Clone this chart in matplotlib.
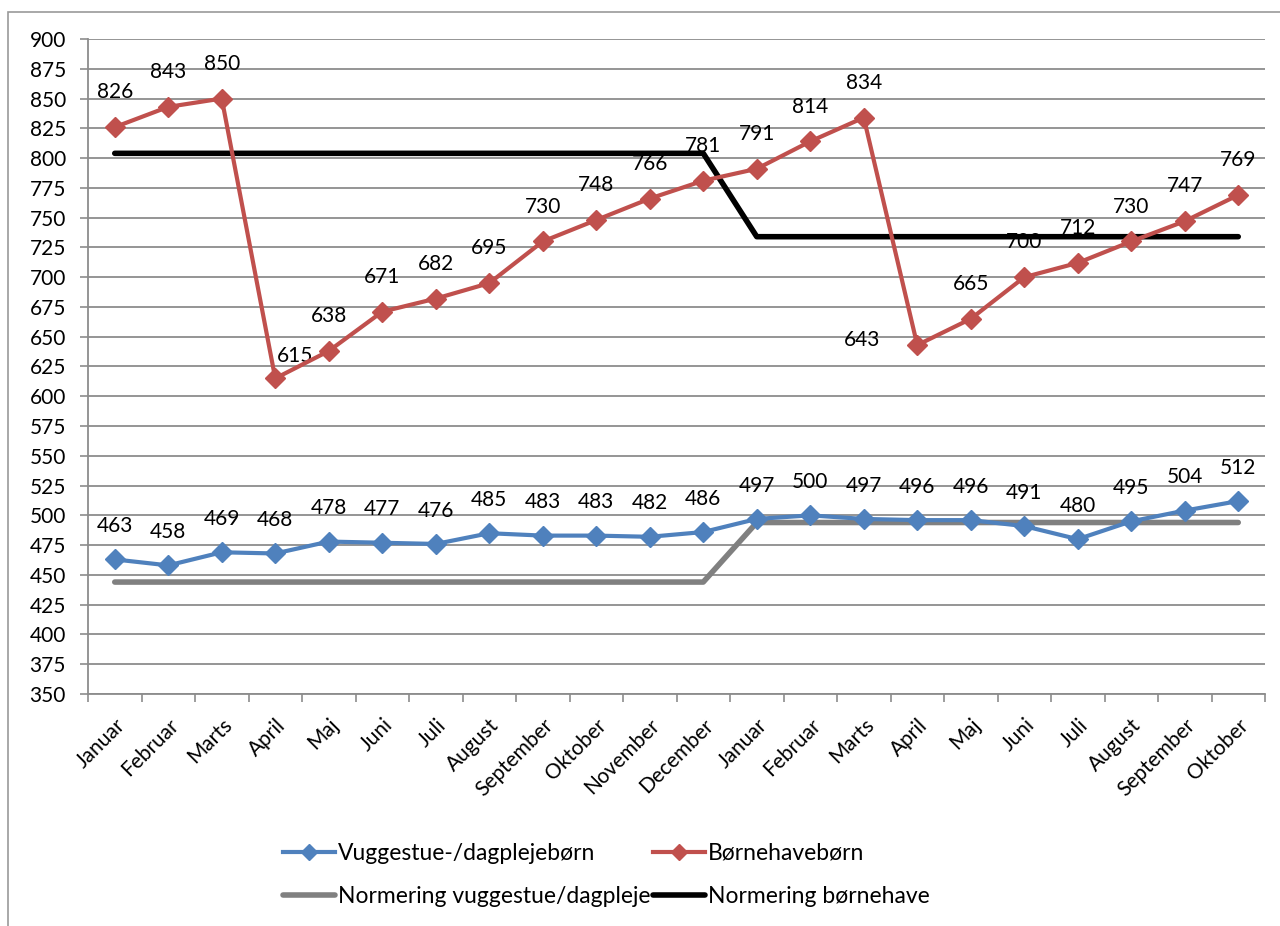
import matplotlib
matplotlib.use("Agg")
import matplotlib.pyplot as plt
from matplotlib.patches import Rectangle

plt.rcParams["font.family"] = ["Lato", "DejaVu Sans"]

# ---- Data ----
months = ["Januar", "Februar", "Marts", "April", "Maj", "Juni", "Juli", "August",
          "September", "Oktober", "November", "December",
          "Januar", "Februar", "Marts", "April", "Maj", "Juni", "Juli", "August",
          "September", "Oktober"]

vuggestue = [463, 458, 469, 468, 478, 477, 476, 485, 483, 483, 482, 486,
             497, 500, 497, 496, 496, 491, 480, 495, 504, 512]
boernehave = [826, 843, 850, 615, 638, 671, 682, 695, 730, 748, 766, 781,
              791, 814, 834, 643, 665, 700, 712, 730, 747, 769]
norm_vuggestue = [444] * 12 + [494] * 10
norm_boernehave = [804] * 12 + [734] * 10

BLUE = "#4F81BD"
RED = "#C0504D"
GREY = "#808080"
GRID = "#8C8C8C"


def main() -> None:
    fig = plt.figure(figsize=(12.8, 9.26), dpi=100)
    ax = fig.add_axes([88 / 1280, 1 - 694 / 926, (1265 - 88) / 1280, (694 - 39) / 926])

    # outer chart frame (extends past right/bottom edge like the screenshot)
    fig.patches.append(Rectangle((8 / 1280, -0.05), 1.1, 1 - 12 / 926 + 0.05,
                                 transform=fig.transFigure, fill=False,
                                 edgecolor="#9A9A9A", lw=1.2))

    x = list(range(len(months)))

    ax.plot(x, norm_vuggestue, color=GREY, lw=4, solid_capstyle="round",
            label="Normering vuggestue/dagpleje", zorder=3)
    ax.plot(x, norm_boernehave, color="black", lw=4, solid_capstyle="round",
            label="Normering børnehave", zorder=3)
    ax.plot(x, vuggestue, color=BLUE, lw=3, marker="D", ms=10,
            label="Vuggestue-/dagplejebørn", zorder=4)
    ax.plot(x, boernehave, color=RED, lw=3, marker="D", ms=10,
            label="Børnehavebørn", zorder=4)

    # data labels above points
    for xi, v in zip(x, vuggestue):
        ax.annotate(str(v), (xi, v), xytext=(0, 24), textcoords="offset points",
                    ha="center", va="center", fontsize=15)
    special = {3: (14, 16), 15: (-40, 4)}
    for xi, v in zip(x, boernehave):
        dx, dy = special.get(xi, (0, 25))
        ax.annotate(str(v), (xi, v), xytext=(dx, dy), textcoords="offset points",
                    ha="center", va="center", fontsize=15)

    # axes
    ax.set_xlim(-0.5, len(months) - 0.5)
    ax.set_ylim(350, 900)
    ax.set_yticks(range(350, 901, 25))
    ax.yaxis.grid(True, color=GRID, lw=1.3)
    ax.set_axisbelow(True)
    ax.tick_params(axis="y", length=6, width=1.2, color=GRID, pad=10, labelsize=15)

    ax.set_xticks(x)
    ax.set_xticklabels(months, rotation=45, ha="right", va="top",
                       rotation_mode="anchor", fontsize=15)
    ax.set_xticks([i - 0.5 for i in range(len(months) + 1)], minor=True)
    ax.tick_params(axis="x", which="major", length=0, pad=15)
    ax.tick_params(axis="x", which="minor", length=6, width=1.2, color=GRID)

    for side in ("top", "right"):
        ax.spines[side].set_visible(False)
    for side in ("left", "bottom"):
        ax.spines[side].set_color(GRID)
        ax.spines[side].set_linewidth(1.3)

    # legend order: row 1 -> blue, red ; row 2 -> grey, black
    handles, labels = ax.get_legend_handles_labels()
    order = [2, 0, 3, 1]
    fig.legend([handles[i] for i in order], [labels[i] for i in order],
               loc="center", bbox_to_anchor=(606 / 1280, 1 - 875 / 926),
               ncol=2, frameon=False, fontsize=16.5, numpoints=1,
               handlelength=2.3, handletextpad=0.1, columnspacing=0.1,
               labelspacing=1.0, markerscale=0.8)

    fig.savefig("out.png", dpi=100)
    plt.close(fig)


if __name__ == "__main__":
    main()
